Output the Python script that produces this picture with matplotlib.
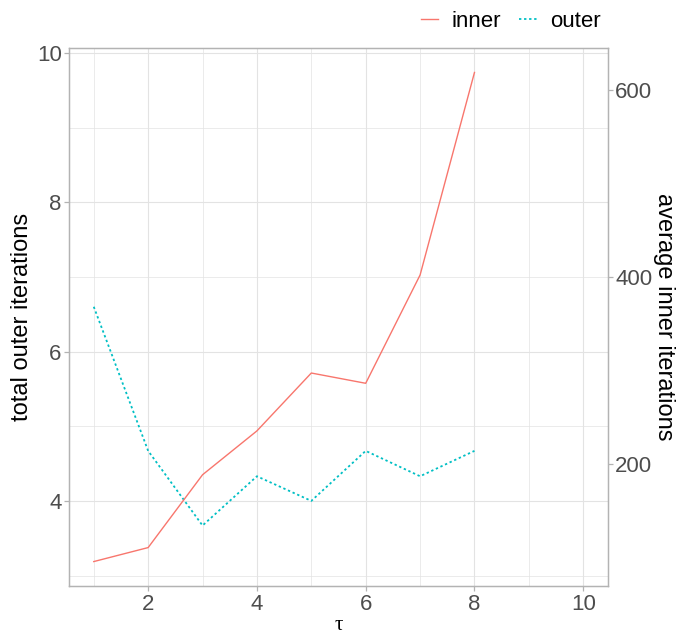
import numpy as np
import matplotlib
matplotlib.use("Agg")
import matplotlib.pyplot as plt
from matplotlib.lines import Line2D

plt.rcParams['font.family'] = ['Liberation Sans', 'DejaVu Sans']

# data
tau = [1, 2, 3, 4, 5, 6, 7, 8]
inner_iters = [95, 110, 188, 235, 297, 286, 402, 619]
outer_iters = [6.6, 4.67, 3.67, 4.33, 4.0, 4.67, 4.33, 4.67]
x_ticks = [2, 4, 6, 8, 10]
left_ticks = [4, 6, 8, 10]
right_ticks = [200, 400, 600]

# secondary axis transform: left = offset + inner / scale
sec_offset = 2.0
sec_scale = 80.0

red = '#F8766D'
cyan = '#00BFC4'
grid_col = '#E3E3E3'
border_col = '#B3B3B3'
text_col = '#4D4D4D'

fig = plt.figure(figsize=(6.76, 6.3), dpi=100)
ax = fig.add_axes([0.1025, 0.0698, 0.899 - 0.1025, 0.9238 - 0.0698])
ax2 = ax.twinx()

# limits like ggplot: data range plus 5% each side
mapped = [sec_offset + v / sec_scale for v in inner_iters]
lo = min(min(outer_iters), min(mapped))
hi = max(max(outer_iters), max(mapped))
pad = (hi - lo) * 0.05
ax.set_ylim(lo - pad, hi + pad)
ax2.set_ylim((lo - pad - sec_offset) * sec_scale, (hi + pad - sec_offset) * sec_scale)
xpad = (10 - 1) * 0.05
ax.set_xlim(1 - xpad, 10 + xpad)

# grid
for xv in range(1, 11):
    ax.axvline(xv, color=grid_col, lw=0.8 if xv % 2 == 0 else 0.5, zorder=0)
for yv in range(3, 11):
    ax.axhline(yv, color=grid_col, lw=0.8 if yv % 2 == 0 else 0.5, zorder=0)

ax.plot(tau, outer_iters, color=cyan, lw=1.3, linestyle=(0, (1.3, 1.5)), zorder=3)
ax2.plot(tau, inner_iters, color=red, lw=1.0, zorder=3)

ax.set_xticks(x_ticks)
ax.set_yticks(left_ticks)
ax2.set_yticks(right_ticks)
for a in (ax, ax2):
    for s in a.spines.values():
        s.set_color(border_col)
        s.set_linewidth(0.9)
    a.tick_params(colors=border_col, labelcolor=text_col, labelsize=16,
                  length=3.5, width=0.9)
ax.tick_params(axis='x', pad=2)
ax.tick_params(axis='y', pad=2)
ax2.tick_params(axis='y', pad=2)

ax.set_ylabel('total outer iterations', fontsize=17, color='black', labelpad=3)
ax2.set_ylabel('average inner iterations', fontsize=17, color='black',
               rotation=-90, labelpad=16)
ax.set_xlabel('τ', fontsize=15, color='black', family=['Liberation Serif', 'DejaVu Serif'],
              labelpad=1)

handles = [Line2D([], [], color=red, lw=1.0),
           Line2D([], [], color=cyan, lw=1.3, linestyle=(0, (1.3, 1.5)))]
fig.legend(handles, ['inner', 'outer'], loc='upper right', bbox_to_anchor=(0.905, 1.0),
           ncol=2, frameon=False, fontsize=16, handlelength=0.8, handletextpad=0.6,
           columnspacing=0.8, borderaxespad=0.1)

fig.savefig('out.png', dpi=100)
